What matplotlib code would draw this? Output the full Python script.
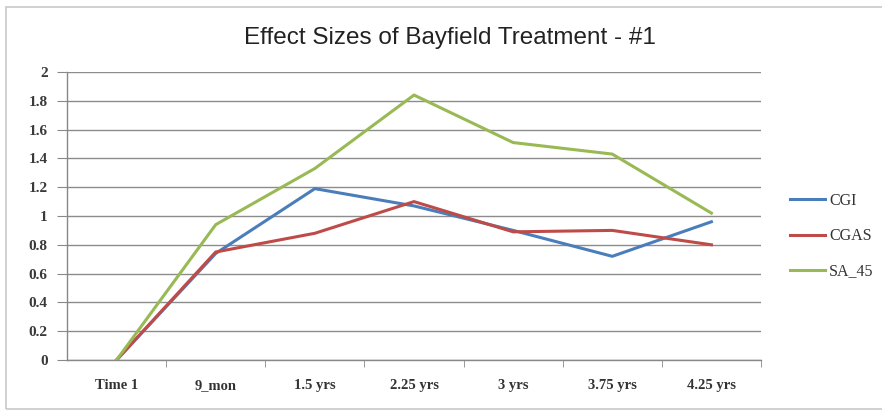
import matplotlib
matplotlib.use("Agg")
import matplotlib.pyplot as plt
from matplotlib.patches import Rectangle

categories = ["Time 1", "9_mon", "1.5 yrs", "2.25 yrs", "3 yrs", "3.75 yrs", "4.25 yrs"]
cgi = [0.0, 0.74, 1.19, 1.07, 0.90, 0.72, 0.96]
cgas = [0.0, 0.75, 0.88, 1.10, 0.89, 0.90, 0.80]
sa_45 = [0.0, 0.94, 1.33, 1.84, 1.51, 1.43, 1.02]
y_ticks = [0, 0.2, 0.4, 0.6, 0.8, 1, 1.2, 1.4, 1.6, 1.8, 2]
y_tick_labels = ["0", "0.2", "0.4", "0.6", "0.8", "1", "1.2", "1.4", "1.6", "1.8", "2"]

W, H = 882, 413
fig = plt.figure(figsize=(W / 100, H / 100), dpi=100)
fig.patch.set_facecolor("white")

# outer chart frame
fig.patches.append(Rectangle((6 / W, 1 - 409 / H), (W + 10) / W, (409 - 7) / H,
                             transform=fig.transFigure, fill=False,
                             edgecolor="#c8c8c8", linewidth=1.2))

left, right, top, bottom = 67, 761, 72, 360
ax = fig.add_axes([left / W, 1 - bottom / H, (right - left) / W, (bottom - top) / H])

x = list(range(len(categories)))
ax.plot(x, cgi, color="#4a7ebb", lw=2.2, label="CGI", zorder=3)
ax.plot(x, cgas, color="#be4b48", lw=2.2, label="CGAS", zorder=3)
ax.plot(x, sa_45, color="#98b954", lw=2.2, label="SA_45", zorder=3)

ax.set_xlim(-0.5, len(categories) - 0.5)
ax.set_ylim(0, 2)
ax.set_yticks(y_ticks)
ax.set_yticklabels(y_tick_labels, fontfamily="Liberation Serif", fontweight="bold",
                   fontsize=11, color="#3a3a3a")
ax.set_xticks(x)
ax.set_xticklabels(categories, fontfamily="Liberation Serif", fontweight="bold",
                   fontsize=10.5, color="#333333")
ax.set_xticks([i + 0.5 for i in range(len(categories))], minor=True)
ax.tick_params(axis="x", which="major", length=0, pad=14)
ax.tick_params(axis="x", which="minor", length=5, color="#888888", direction="out")
ax.tick_params(axis="y", length=7, color="#888888", direction="out", pad=7)

ax.grid(axis="y", color="#8c8c8c", lw=1.0, zorder=0)
for s in ["top", "right"]:
    ax.spines[s].set_visible(False)
for s in ["left", "bottom"]:
    ax.spines[s].set_color("#888888")
    ax.spines[s].set_linewidth(1.0)

fig.text(450 / W, 1 - 44 / H, "Effect Sizes of Bayfield Treatment - #1",
         ha="center", va="baseline", fontsize=17.5, fontfamily="Liberation Sans",
         color="#222222")

leg = ax.legend(loc="center left", bbox_to_anchor=(1.0, 0.43), frameon=False,
                prop={"family": "Liberation Serif", "size": 11.5},
                handlelength=2.2, handletextpad=0.25, labelspacing=1.2,
                borderaxespad=1.4)
for t in leg.get_texts():
    t.set_color("#333333")

fig.savefig("out.png", dpi=100)
